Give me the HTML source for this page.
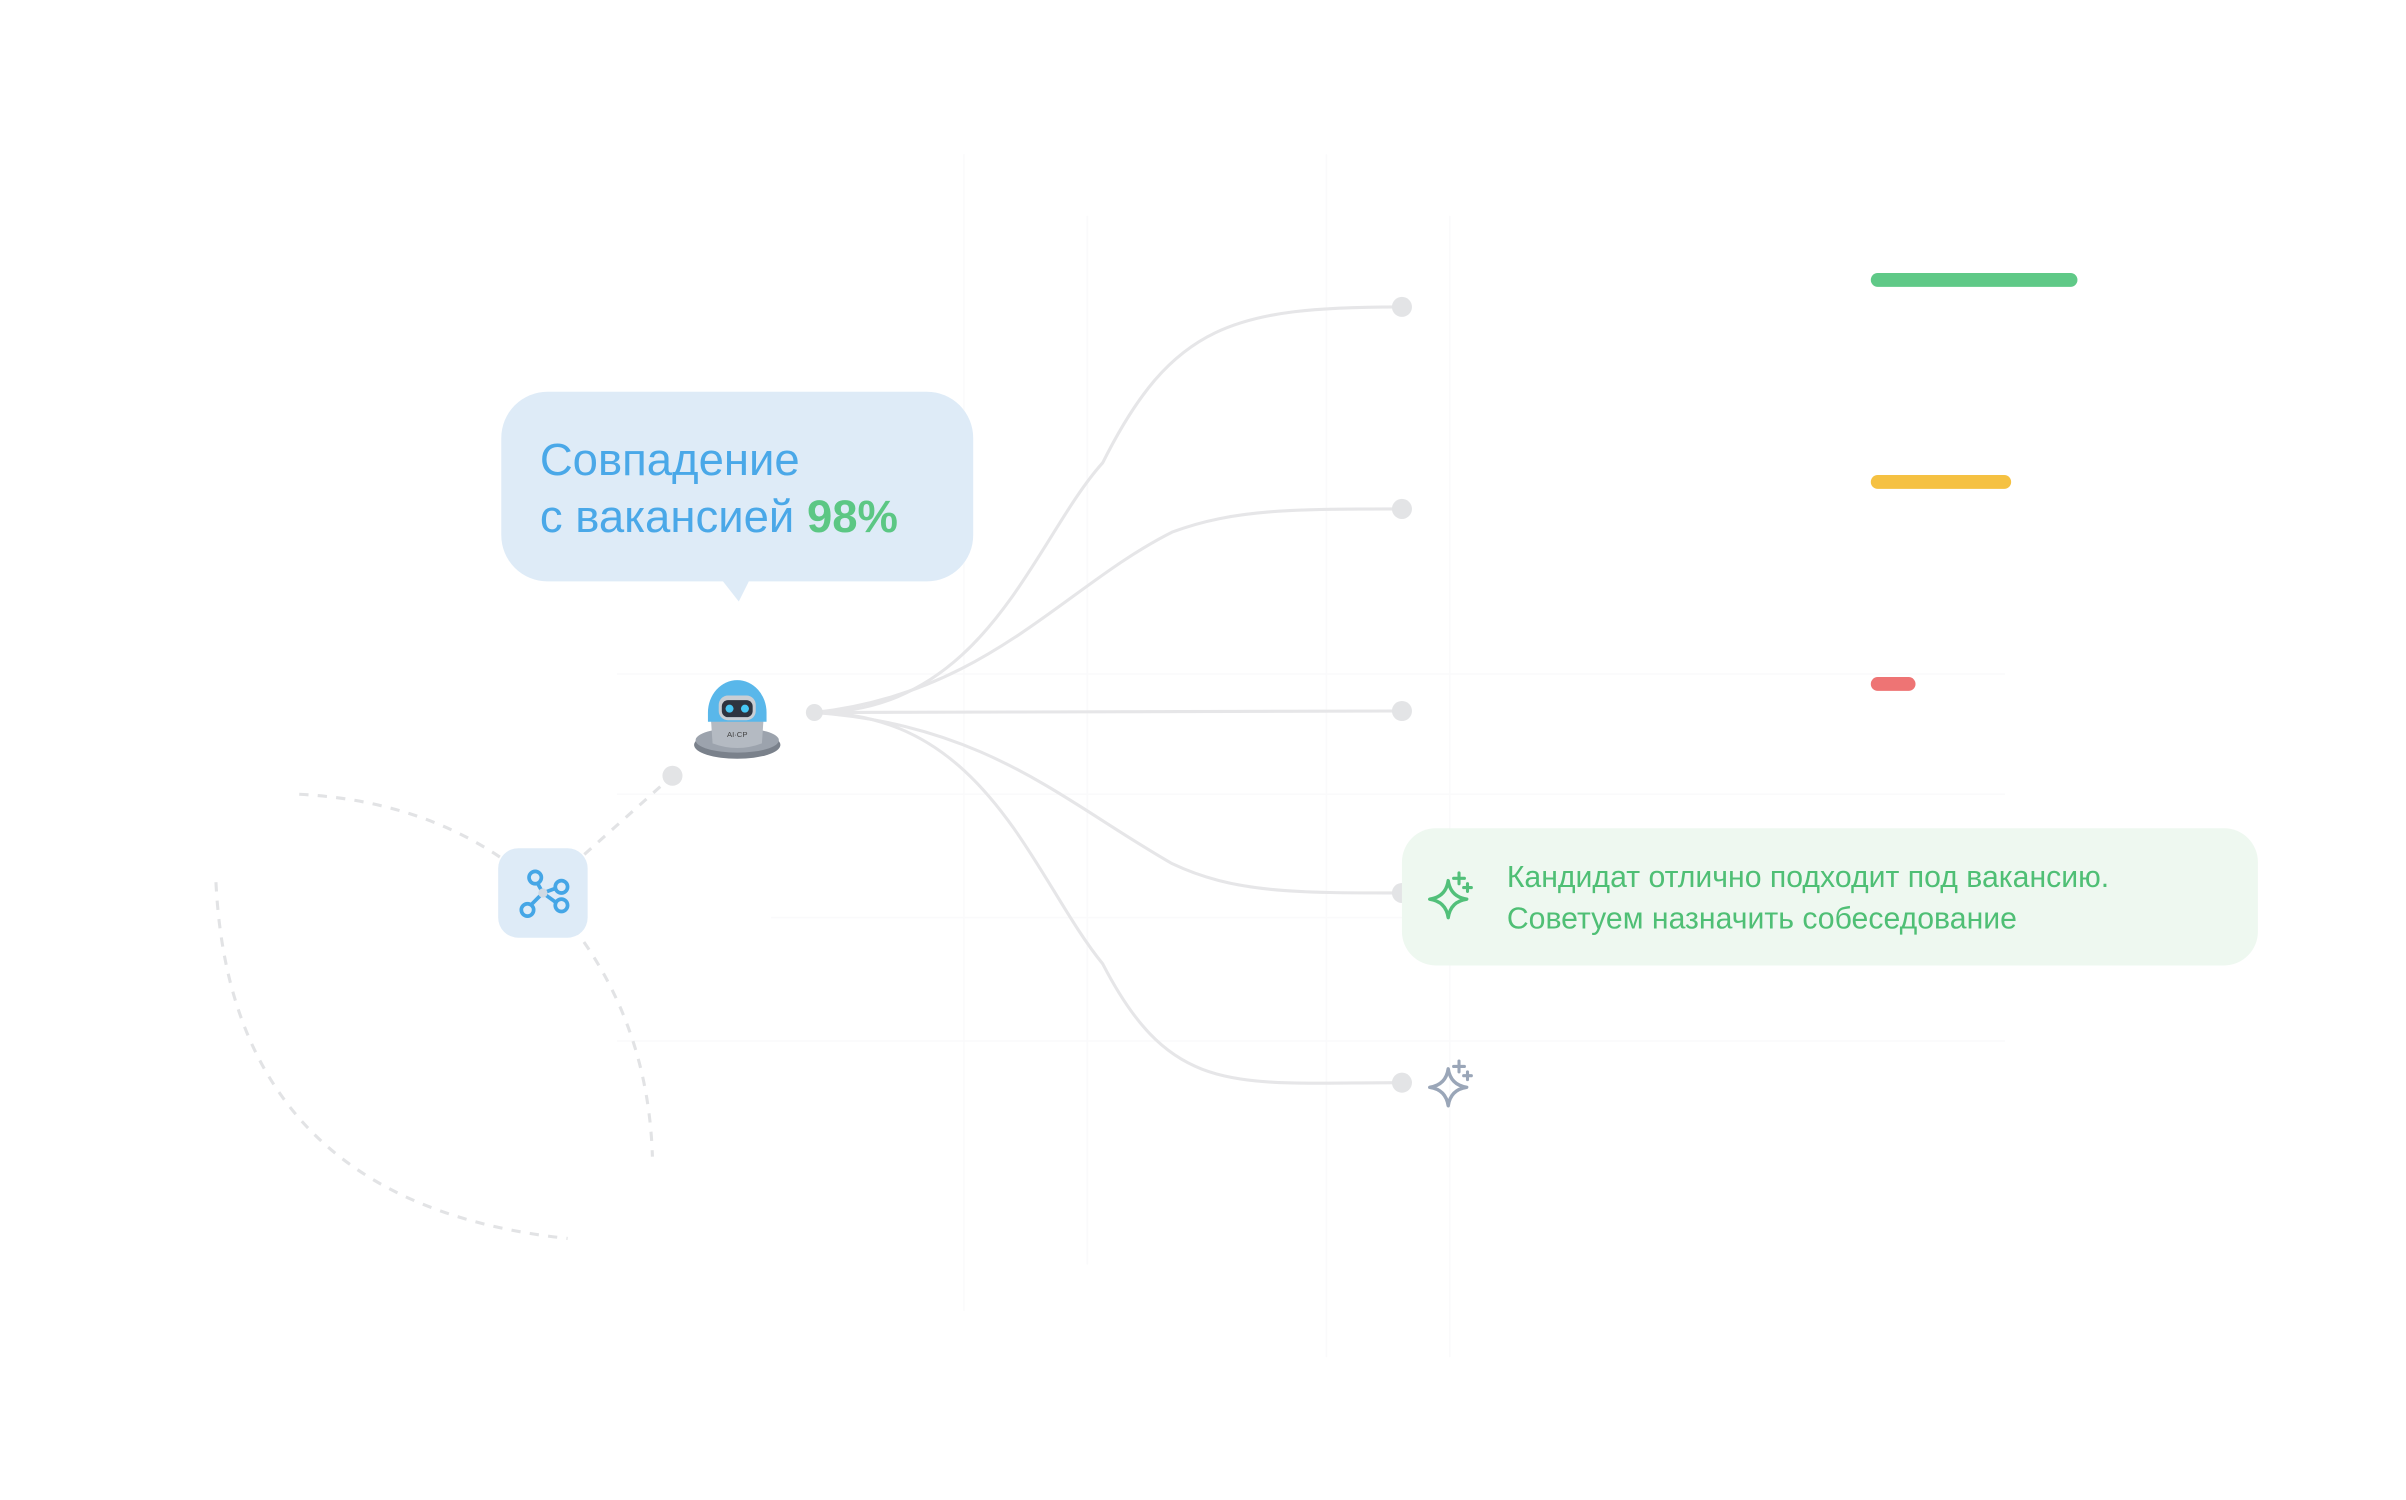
<!DOCTYPE html>
<html><head><meta charset="utf-8"><style>
html,body{margin:0;padding:0;background:#fff;width:2406px;height:1500px;overflow:hidden}
svg{display:block}
text{font-family:"Liberation Sans","DejaVu Sans",sans-serif}
</style></head><body>
<svg width="2406" height="1500" viewBox="0 0 1560 972.6" xmlns="http://www.w3.org/2000/svg">
<defs>
<g id="spark">
<path d="M0,-12 Q1.5,-1.5 12,0 Q1.5,1.5 0,12 Q-1.5,1.5 -12,0 Q-1.5,-1.5 0,-12Z" fill="none" stroke-width="2.2" stroke-linejoin="round"/>
<path d="M7,-17 v7 M3.5,-13.5 h7 M12.5,-10 v5 M10,-7.5 h5" stroke-width="2" stroke-linecap="round"/>
</g>
</defs>
<g stroke="#fafafb" stroke-width="1">
<line x1="625" y1="100" x2="625" y2="850"/><line x1="705" y1="140" x2="705" y2="820"/>
<line x1="860" y1="100" x2="860" y2="880"/><line x1="940" y1="140" x2="940" y2="880"/>
<line x1="400" y1="437" x2="1300" y2="437"/><line x1="400" y1="515" x2="1300" y2="515"/>
<line x1="500" y1="595" x2="1300" y2="595"/><line x1="400" y1="675" x2="1300" y2="675"/>
</g>
<g fill="none" stroke="#e2e3e5" stroke-width="2" stroke-dasharray="6 6">
<path d="M194,515 Q290,520 352,578 Q420,650 423,750"/>
<path d="M140,572 Q150,780 368,803"/>
<path d="M352,578 L436,503"/>
</g>
<rect x="323" y="550" width="58" height="58" rx="13" fill="#deebf7"/>
<g stroke="#45a6e6" stroke-width="2.4" fill="#deebf7">
<line x1="352" y1="579" x2="347" y2="570"/><line x1="352" y1="579" x2="363" y2="575"/>
<line x1="352" y1="579" x2="363" y2="587"/><line x1="352" y1="579" x2="342" y2="589"/>
<circle cx="347" cy="569" r="4"/><circle cx="364" cy="575" r="4"/>
<circle cx="364" cy="587" r="4"/><circle cx="342" cy="590" r="4"/>
<circle cx="352" cy="579" r="3" fill="#cfd9e3" stroke="none"/>
</g>
<circle cx="436" cy="503" r="6.5" fill="#e3e4e6"/>
<g fill="none" stroke="#e6e6e8" stroke-width="2">
<path d="M528,462 C640,462 670,350 715,300 C760,210 800,199 909,199"/>
<path d="M528,462 C640,450 690,380 760,345 C800,330 840,330 909,330"/>
<path d="M528,462 L909,461"/>
<path d="M528,462 C640,470 690,520 760,560 C800,579 840,579 909,579"/>
<path d="M528,462 C640,462 670,570 715,625 C760,712 800,702 909,702"/>
</g>
<circle cx="528" cy="462" r="5.5" fill="#e3e4e6"/>
<g fill="#e3e4e6">
<circle cx="909" cy="199" r="6.5"/><circle cx="909" cy="330" r="6.5"/><circle cx="909" cy="461" r="6.5"/>
<circle cx="909" cy="579" r="6.5"/><circle cx="909" cy="702" r="6.5"/>
</g>
<rect x="325" y="254" width="306" height="123" rx="30" fill="#deebf7"/>
<path d="M468,376 L486,376 L479,390 Z" fill="#deebf7"/>
<text x="350" y="308" font-size="29.5" fill="#4aa8e8">Совпадение</text>
<text x="350" y="345" font-size="29.5" fill="#4aa8e8">с вакансией <tspan fill="#5cc784" font-weight="bold">98%</tspan></text>
<ellipse cx="478" cy="483" rx="28" ry="9" fill="#7a818b"/>
<ellipse cx="478" cy="480" rx="27" ry="8" fill="#9ca3ad"/>
<path d="M461,467 L495,467 L494,482 Q478,488 462,482 Z" fill="#b4bac2"/>
<path d="M459,462 A19,21 0 0 1 497,462 L497,468 L459,468 Z" fill="#59b7ea"/>
<rect x="466" y="451" width="24" height="16" rx="6" fill="#c9ced4"/>
<rect x="468" y="454" width="20" height="11" rx="4" fill="#2e3440"/>
<circle cx="473" cy="459.5" r="2.6" fill="#47c7f5"/><circle cx="483" cy="459.5" r="2.6" fill="#47c7f5"/>
<text x="478" y="478" font-size="5" fill="#444" text-anchor="middle">AI·CP</text>
<rect x="1213" y="177" width="134" height="9" rx="4.5" fill="#5fc987"/>
<rect x="1213" y="308" width="91" height="9" rx="4.5" fill="#f5c142"/>
<rect x="1213" y="439" width="29" height="9" rx="4.5" fill="#ee7474"/>
<rect x="909" y="537" width="555" height="89" rx="22" fill="#eef8f0"/>
<use href="#spark" x="939" y="583" stroke="#52c07a"/>
<text x="977" y="575" font-size="19.6" fill="#4fbf75">Кандидат отлично подходит под вакансию.</text>
<text x="977" y="602" font-size="19.6" fill="#4fbf75">Советуем назначить собеседование</text>
<use href="#spark" x="939" y="705" stroke="#9aa6b8"/>
</svg>
</body></html>
